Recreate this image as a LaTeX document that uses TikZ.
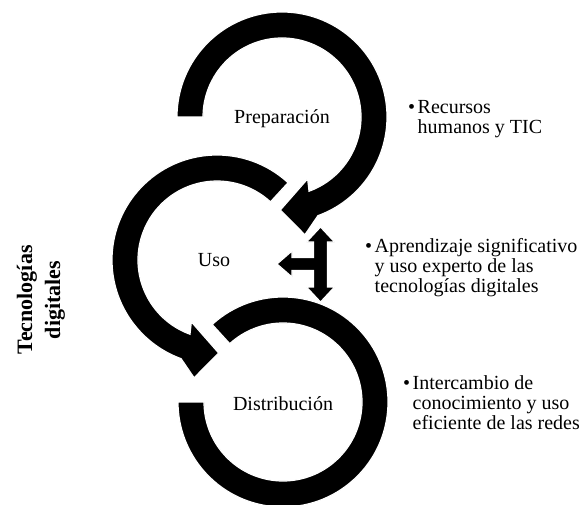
\documentclass[tikz,border=0pt]{standalone}
\usepackage{fontspec}
\setmainfont{Liberation Serif}
\usetikzlibrary{calc}
\begin{document}
\begin{tikzpicture}[x=1pt,y=1pt,
  band/.style={fill=black, draw=white, line width=1.2pt, line join=miter},
  lbl/.style={inner sep=0pt, anchor=base, font=\fontsize{20}{20}\selectfont},
  note/.style={inner sep=0pt, anchor=base west, font=\fontsize{20}{20}\selectfont},
  side/.style={inner sep=0pt, rotate=90, align=center, font=\bfseries\fontsize{22}{28}\selectfont}
]
\useasboundingbox (0,0) rectangle (583,504);
\coordinate (c1) at (282,387);
\coordinate (c2) at (217,244);
\coordinate (c3) at (283,102);
% ring 3 (Distribucion)
\begin{scope}[shift={(c3)}]
\path[band] (132.4:105) arc[start angle=132.4, end angle=-180, radius=105]
  -- (180:79) arc[start angle=180, end angle=492.4, radius=79] -- cycle;
\end{scope}
% ring 2 (Uso)
\begin{scope}[shift={(c2)}]
\path[band] (47.4:105) arc[start angle=47.4, end angle=250, radius=105]
  -- (259:120) -- (271:93) -- (247.5:67) -- (250:79)
  arc[start angle=250, end angle=47.4, radius=79] -- cycle;
\end{scope}
% ring 1 (Preparacion)
\begin{scope}[shift={(c1)}]
\path[band] (180:105) arc[start angle=180, end angle=-70, radius=105]
  -- (-79:120) -- (-91:93) -- (-67.5:67) -- (-70:79)
  arc[start angle=-70, end angle=180, radius=79] -- cycle;
\end{scope}
% three-way arrow
\path[band] (320.5,277) -- (334.5,262) -- (327.5,262) -- (327.5,217) -- (334.5,217)
  -- (320.5,202) -- (306.5,217) -- (313.5,217) -- (313.5,233.5) -- (292,233.5)
  -- (292,227) -- (277,240) -- (292,253) -- (292,246.5) -- (313.5,246.5)
  -- (313.5,262) -- (306.5,262) -- cycle;
% labels
\node[lbl] (prep) at (282,380.7) {Preparación};
\node[lbl] (uso) at (214,237.3) {Uso};
\node[lbl] (dist) at (283,94) {Distribución};
\node[note] (n1) at (408,390.7) {\begin{tabular}[t]{@{}l@{\hspace{2.5pt}}l@{}}\textbullet & Recursos\\ & humanos y TIC\end{tabular}};
\node[note] (n2) at (365,252) {\begin{tabular}[t]{@{}l@{\hspace{2.5pt}}l@{}}\textbullet & Aprendizaje significativo\\ & y uso experto de las\\ & tecnologías digitales\end{tabular}};
\node[note] (n3) at (403,115) {\begin{tabular}[t]{@{}l@{\hspace{2.5pt}}l@{}}\textbullet & Intercambio de\\ & conocimiento y uso\\ & eficiente de las redes\end{tabular}};
\node[side] (tec) at (41,204) {Tecnologías\\digitales};
\end{tikzpicture}
\end{document}
